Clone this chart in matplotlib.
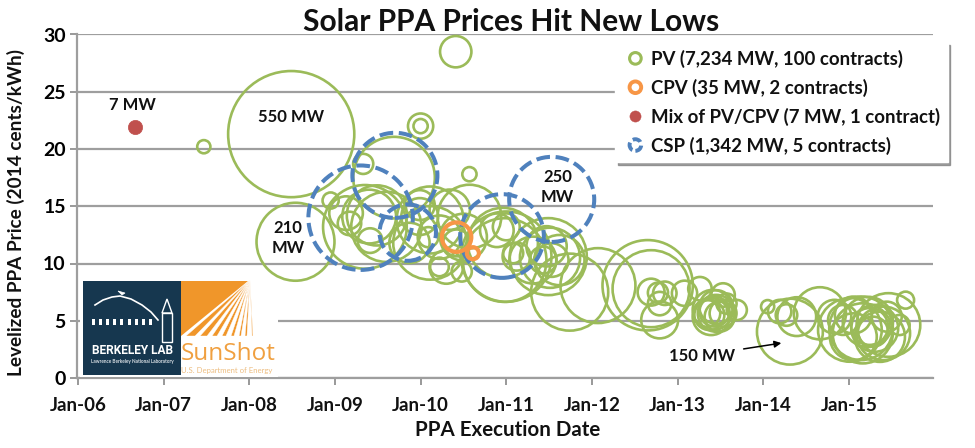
import matplotlib
matplotlib.use("Agg")
import matplotlib.pyplot as plt
from matplotlib.patches import Rectangle, Polygon

plt.rcParams['font.family'] = ['Lato', 'DejaVu Sans']
plt.rcParams['font.weight'] = 'bold'

TITLE = "Solar PPA Prices Hit New Lows"
XLABEL = "PPA Execution Date"
YLABEL = "Levelized PPA Price (2014 cents/kWh)"
X_TICKS = [2006, 2007, 2008, 2009, 2010, 2011, 2012, 2013, 2014, 2015]
X_TICK_LABELS = ["Jan-06", "Jan-07", "Jan-08", "Jan-09", "Jan-10",
                 "Jan-11", "Jan-12", "Jan-13", "Jan-14", "Jan-15"]
Y_TICKS = [0, 5, 10, 15, 20, 25, 30]

pv_date = [2010.41, 2007.47, 2008.49, 2010.0, 2010.0, 2009.33, 2010.57, 2008.54, 2009.69,
           2008.95, 2009.35, 2009.17, 2009.13, 2009.41, 2009.49, 2009.60, 2009.40,
           2010.11, 2010.57, 2010.34, 2009.99, 2010.22, 2010.09, 2009.87, 2010.22,
           2010.48, 2010.42, 2010.11, 2010.50, 2010.30, 2009.99,
           2011.00, 2010.98, 2010.96, 2011.00, 2011.12, 2011.08, 2010.89,
           2011.49, 2011.51, 2011.53, 2011.47, 2011.43, 2011.31, 2011.74,
           2012.07, 2011.62, 2012.65, 2012.69, 2012.69, 2012.77, 2012.85,
           2012.79, 2012.79, 2013.08, 2013.26,
           2013.53, 2013.41, 2013.45, 2013.37, 2013.45, 2013.69, 2013.49, 2013.39,
           2013.57, 2013.53, 2013.34, 2013.43,
           2014.05, 2014.19, 2014.27, 2014.39, 2014.66, 2014.31,
           2014.83, 2015.05, 2015.01, 2015.22, 2015.16, 2015.05, 2015.46, 2015.66,
           2015.44, 2015.59, 2015.28, 2015.40, 2015.24, 2015.14, 2014.93, 2015.30,
           2015.36]
pv_price = [28.5, 20.2, 21.3, 22.0, 22.0, 18.7, 17.8, 11.9, 17.5,
            15.5, 13.2, 13.5, 14.4, 12.0, 14.2, 13.2, 14.1,
            13.8, 14.1, 14.7, 15.1, 12.3, 12.3, 11.8, 9.7,
            9.3, 11.8, 11.8, 12.3, 9.7, 14.1,
            10.6, 10.3, 11.8, 13.2, 10.6, 10.9, 12.9,
            10.6, 10.5, 10.3, 11.5, 10.3, 10.3, 7.5,
            8.07, 10.3, 8.1, 7.8, 7.5, 7.45, 7.4,
            5.07, 6.5, 7.4, 7.8,
            7.25, 5.94, 5.65, 5.5, 6.2, 5.94, 5.36, 5.36,
            6.5, 5.65, 5.65, 5.8,
            6.23, 5.8, 5.5, 5.36, 5.65, 4.05,
            5.36, 5.5, 4.2, 4.9, 3.9, 3.6, 4.63, 6.8,
            5.36, 4.63, 4.05, 3.9, 4.5, 4.34, 5.07, 4.34,
            3.6]
pv_mw = [34, 6, 550, 22, 7, 14, 7, 210, 230,
         9, 242, 19, 39, 21, 125, 170, 100,
         155, 140, 56, 31, 65, 14, 56, 12,
         14, 25, 187, 76, 39, 47,
         282, 242, 170, 25, 27, 14, 39,
         205, 125, 39, 56, 25, 76, 205,
         194, 87, 282, 205, 25, 14, 19,
         47, 19, 22, 19,
         19, 56, 47, 31, 39, 14, 31, 47,
         14, 25, 25, 31,
         6, 19, 16, 52, 94, 150,
         39, 47, 140, 87, 125, 76, 140, 10,
         31, 14, 31, 99, 47, 140, 31, 76,
         87]

cpv_date = [2010.42, 2010.61]
cpv_price = [12.3, 10.9]
cpv_mw = [30, 5]

mix_date = [2006.67]
mix_price = [21.9]
mix_mw = [7]

csp_date = [2009.30, 2009.70, 2009.85, 2010.95, 2011.53]
csp_price = [14.0, 17.7, 12.7, 12.4, 15.6]
csp_mw = [377, 250, 110, 242, 250]

SIZE_PER_MW = 15
fig = plt.figure(figsize=(9.75, 4.48), dpi=100)
ax = fig.add_axes([77 / 975, 1 - 378 / 448, (933 - 77) / 975, (378 - 34.5) / 448])
ax.set_xlim(2005.99, 2015.98)
ax.set_ylim(0, 30)
ax.set_xticks(X_TICKS)
ax.set_xticklabels(X_TICK_LABELS, fontsize=13.5, color='#111111')
ax.set_yticks(Y_TICKS)
ax.tick_params(axis='y', labelsize=14, length=5, width=1.2, color='#888888', pad=3)
ax.tick_params(axis='x', length=5, width=1.2, color='#888888', pad=9)
ax.yaxis.grid(True, color='#9E9E9E', lw=1.6, zorder=0)
ax.set_axisbelow(True)
for s in ['top', 'right']:
    ax.spines[s].set_visible(False)
for s in ['left', 'bottom']:
    ax.spines[s].set_color('#9E9E9E')
    ax.spines[s].set_linewidth(1.6)
fig.text(511 / 975, 1 - 22 / 448, TITLE, fontsize=21.5, fontweight='bold', ha='center', va='center',
         color='#111111')
fig.text(508 / 975, 1 - 430 / 448, XLABEL, fontsize=14.8, fontweight='bold', ha='center', va='center',
         color='#111111')
fig.text(16 / 975, 1 - 212 / 448, YLABEL, fontsize=13.7, fontweight='bold', rotation=90,
         ha='center', va='center', color='#111111')

GREEN, ORANGE, RED, BLUE = '#9BBB59', '#F79646', '#C0504D', '#4F81BD'
ax.scatter(pv_date, pv_price, s=[m * SIZE_PER_MW for m in pv_mw], facecolors='none',
           edgecolors=GREEN, linewidths=1.9, zorder=3, clip_on=False)
ax.scatter(csp_date, csp_price, s=[m * SIZE_PER_MW for m in csp_mw], facecolors='none',
           edgecolors=BLUE, linewidths=2.9, linestyles=(0, (3.4, 1.4)), zorder=4)
ax.scatter(cpv_date, cpv_price, s=[m * SIZE_PER_MW for m in cpv_mw], facecolors='none',
           edgecolors=ORANGE, linewidths=3.0, zorder=5)
ax.scatter(mix_date, mix_price, s=[m * SIZE_PER_MW for m in mix_mw], facecolors=RED,
           edgecolors=RED, linewidths=0.5, zorder=5)

kw = dict(ha='center', va='center', fontsize=12, fontweight='bold', color='#111111', zorder=6,
          linespacing=1.3)
ax.text(2006.64, 23.8, "7 MW", **kw)
ax.text(2008.49, 22.8, "550 MW", **kw)
ax.text(2008.45, 12.2, "210\nMW", **kw)
ax.text(2011.6, 16.7, "250\nMW", **kw)
ax.text(2013.29, 1.9, "150 MW", **kw)
ax.annotate("", xy=(2014.21, 3.05), xytext=(2013.77, 2.54), zorder=6,
            arrowprops=dict(arrowstyle='-|>', color='black', lw=1.1, shrinkA=0, shrinkB=0,
                            mutation_scale=10))

handles = [
    ax.scatter([], [], s=70, facecolors='none', edgecolors=GREEN, linewidths=2.2),
    ax.scatter([], [], s=70, facecolors='none', edgecolors=ORANGE, linewidths=2.8),
    ax.scatter([], [], s=65, facecolors=RED, edgecolors=RED, linewidths=0.3),
    ax.scatter([], [], s=70, facecolors='none', edgecolors=BLUE, linewidths=2.8,
               linestyles=(0, (2.2, 1.0))),
]
labels = ["PV (7,234 MW, 100 contracts)", "CPV (35 MW, 2 contracts)",
          "Mix of PV/CPV (7 MW, 1 contract)", "CSP (1,342 MW, 5 contracts)"]
leg = ax.legend(handles, labels, loc='upper left', bbox_to_anchor=(615 / 975, 1 - 42 / 448),
                bbox_transform=fig.transFigure, borderaxespad=0, fontsize=13.4, frameon=True,
                fancybox=False, shadow={'color': '#777777', 'alpha': 0.7, 'ox': 2, 'oy': -2},
                framealpha=1, edgecolor='white', labelspacing=0.58, borderpad=0.42,
                handletextpad=0.15, handlelength=1.35, scatteryoffsets=[0.5])
leg.set_zorder(10)
for t in leg.get_texts():
    t.set_color('#111111')

# Logo panel drawn in pixel coordinates on a transparent overlay
ov = fig.add_axes([0, 0, 1, 1], zorder=20)
ov.set_xlim(0, 975)
ov.set_ylim(448, 0)
ov.axis('off')
ov.add_patch(Rectangle((80, 279), 198, 98, fc='white', ec='none'))
ov.add_patch(Rectangle((83, 281), 98, 94, fc='#16374F', ec='none'))
ov.add_patch(Polygon([(181, 281), (248, 281), (181, 336)], fc='#F0962A', ec='none'))
apex = (250, 280)
for b0, b1 in [(186, 195), (200, 207), (212, 217), (222, 226),
               (231, 234), (239, 241), (245, 247), (252, 253)]:
    ov.add_patch(Polygon([apex, (b0, 336), (b1, 336)], fc='#F0962A', ec='white', lw=0.3))
ov.plot([95, 103, 112, 120, 131, 142, 151, 158], [305, 300, 297, 296, 299, 305, 312, 320],
        color='white', lw=1.2)
ov.add_patch(Polygon([(118, 291), (125, 293), (122, 295)], fc='white', ec='white', lw=0.5))
for x in [92, 99, 106, 113, 120, 128, 135, 142, 149]:
    ov.add_patch(Rectangle((x, 319), 3, 6, fc='white', ec='none'))
ov.add_patch(Rectangle((162, 313), 10, 29, fc='none', ec='white', lw=1))
ov.add_patch(Polygon([(162, 313), (167, 299), (172, 313)], fc='none', ec='white', lw=1))
ov.text(132, 351, "BERKELEY LAB", color='white', fontsize=8.6, fontweight='bold',
        ha='center', va='center', family=['Roboto', 'DejaVu Sans'])
ov.text(132, 361, "Lawrence Berkeley National Laboratory", color='#D8DEE3', fontsize=3.4,
        ha='center', va='center')
ov.text(181, 354, "SunShot", color='#F0A040', fontsize=17.5, fontweight='normal',
        ha='left', va='center', family=['Open Sans', 'DejaVu Sans'])
ov.text(181, 371, "U.S. Department of Energy", color='#EDBD80', fontsize=5.6, fontweight='normal',
        ha='left', va='center')

fig.savefig("out.png", dpi=100)
